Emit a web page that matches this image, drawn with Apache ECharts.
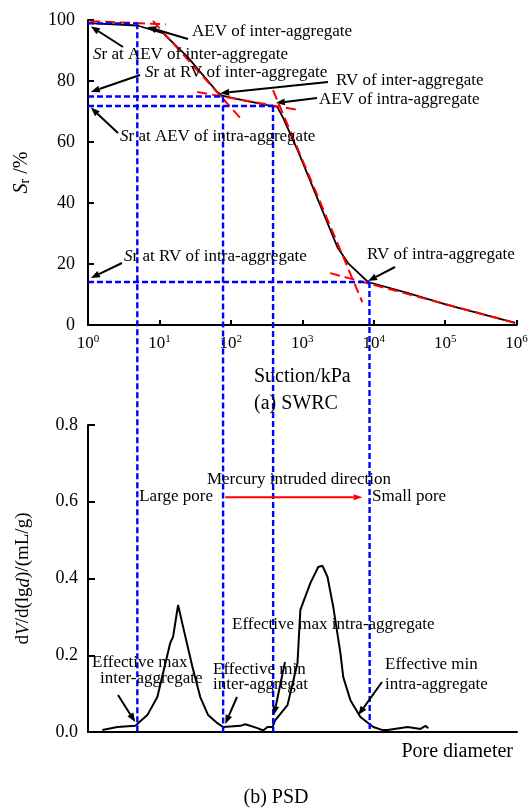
<!DOCTYPE html>
<html>
<head>
<meta charset="utf-8">
<script src="https://cdn.jsdelivr.net/npm/echarts@6/dist/echarts.min.js"></script>
<style>
  html, body { margin: 0; padding: 0; background: #fff; }
  #chart { width: 532px; height: 810px; }
</style>
</head>
<body>
<div id="chart"></div>
<script>
// (a) SWRC, x = log10(suction / kPa)
var swrcLogS = [0, 0.69, 1.05, 1.19, 1.39, 1.81, 1.88, 2.03, 2.51, 2.65, 2.73, 2.94, 3.49, 3.64, 3.92, 4.47, 5.03, 5.98];
var swrcSr = [99, 98.2, 95.7, 92.5, 88, 76.4, 75.2, 74.4, 72.1, 71.5, 68, 57, 25.6, 20.3, 14.1, 10.5, 6.6, 0.7];

// red tangent lines (start, end)
var tangentLogS = [[0.03, 1.09], [0.91, 2.13], [1.53, 2.94], [2.59, 3.84], [3.39, 5.98]];
var tangentSr = [[99.6, 98.6], [99.7, 67.9], [76.4, 70.5], [77, 7.5], [17, 0.7]];

// characteristic points (blue guides)
var guideLogS = [0.69, 1.89, 2.59, 3.94];
var guideSr = [98.9, 74.9, 71.8, 14.1];

// (b) PSD, same horizontal scale
var psdLogD = [0.2, 0.41, 0.66, 0.7, 0.83, 0.97, 1.15, 1.19, 1.26, 1.33, 1.46, 1.57, 1.68, 1.81, 1.89,
  2.13, 2.2, 2.37, 2.45, 2.51, 2.58, 2.62, 2.79, 2.93, 2.97, 3.11, 3.22, 3.28, 3.35, 3.43, 3.53,
  3.57, 3.67, 3.81, 3.99, 4.12, 4.19, 4.47, 4.65, 4.72, 4.76];
var psdDV = [0.005, 0.013, 0.016, 0.023, 0.044, 0.091, 0.232, 0.248, 0.331, 0.274, 0.17, 0.091, 0.044, 0.023, 0.013,
  0.016, 0.02, 0.01, 0.004, 0.013, 0.013, 0.031, 0.07, 0.18, 0.318, 0.388, 0.43, 0.433, 0.404, 0.326, 0.206,
  0.143, 0.083, 0.039, 0.013, 0.005, 0.005, 0.013, 0.008, 0.016, 0.01];

var FONT = '"Liberation Serif", "Times New Roman", serif';

function pairs(xs, ys) {
  return xs.map(function (x, i) { return [x, ys[i]]; });
}

var chart = echarts.init(document.getElementById('chart'));

var series = [
  {
    type: 'line', xAxisIndex: 0, yAxisIndex: 0,
    data: pairs(swrcLogS, swrcSr),
    symbol: 'none', animation: false, z: 3,
    lineStyle: { color: '#000', width: 1.8 }
  },
  {
    type: 'line', xAxisIndex: 1, yAxisIndex: 1,
    data: pairs(psdLogD, psdDV),
    symbol: 'none', animation: false, z: 3,
    lineStyle: { color: '#000', width: 2 }
  }
];
tangentLogS.forEach(function (xs, i) {
  series.push({
    type: 'line', xAxisIndex: 0, yAxisIndex: 0,
    data: pairs(xs, tangentSr[i]),
    symbol: 'none', animation: false, z: 4,
    lineStyle: { color: '#ff0000', width: 2, type: [10, 5] }
  });
});

var option = {
  animation: false,
  backgroundColor: '#fff',
  grid: [
    { left: 88, top: 20, width: 428.6, height: 305 },
    { left: 88, top: 425, width: 429, height: 307 }
  ],
  xAxis: [
    {
      gridIndex: 0, type: 'value', min: 0, max: 6, interval: 1,
      name: 'Suction/kPa', nameLocation: 'middle', nameGap: 42,
      nameTextStyle: { fontFamily: FONT, fontSize: 20, color: '#000' },
      axisLine: { lineStyle: { color: '#000', width: 2 } },
      axisTick: { inside: true, length: 5, lineStyle: { color: '#000', width: 2 } },
      splitLine: { show: false },
      axisLabel: {
        margin: 9,
        formatter: function (v) { return '{b|10}{s|' + v + '}'; },
        rich: {
          b: { fontFamily: FONT, fontSize: 17, color: '#000', lineHeight: 20 },
          s: { fontFamily: FONT, fontSize: 11, color: '#000', lineHeight: 11, verticalAlign: 'top' }
        }
      }
    },
    {
      gridIndex: 1, type: 'value', min: 0, max: 6,
      axisLine: { lineStyle: { color: '#000', width: 2 } },
      axisTick: { show: false },
      axisLabel: { show: false },
      splitLine: { show: false }
    }
  ],
  yAxis: [
    {
      gridIndex: 0, type: 'value', min: 0, max: 100, interval: 20,
      name: '{i|S}{sub|r} /%', nameLocation: 'middle', nameGap: 56, nameRotate: 90,
      nameTextStyle: {
        rich: {
          i: { fontFamily: FONT, fontSize: 20, fontStyle: 'italic', color: '#000' },
          sub: { fontFamily: FONT, fontSize: 14, color: '#000', padding: [6, 0, 0, 0] }
        },
        fontFamily: FONT, fontSize: 20, color: '#000'
      },
      axisLine: { show: true, lineStyle: { color: '#000', width: 2 } },
      axisTick: { show: true, inside: true, length: 6, lineStyle: { color: '#000', width: 2 } },
      splitLine: { show: false },
      axisLabel: { fontFamily: FONT, fontSize: 18, color: '#000', margin: 13 }
    },
    {
      gridIndex: 1, type: 'value', min: 0, max: 0.8, interval: 0.2,
      name: 'd{i|V}/d(lg{i|d})/(mL/g)', nameLocation: 'middle', nameGap: 55, nameRotate: 90,
      nameTextStyle: {
        fontFamily: FONT, fontSize: 19, color: '#000',
        rich: { i: { fontFamily: FONT, fontSize: 19, fontStyle: 'italic', color: '#000' } }
      },
      axisLine: { show: true, lineStyle: { color: '#000', width: 2 } },
      axisTick: { show: true, inside: true, length: 7, lineStyle: { color: '#000', width: 2 } },
      splitLine: { show: false },
      axisLabel: {
        fontFamily: FONT, fontSize: 18, color: '#000', margin: 10,
        formatter: function (v) { return v.toFixed(1); }
      }
    }
  ],
  series: series
};
chart.setOption(option);

// ---- overlay: guides, arrows and labels ----
function px0(p) { return chart.convertToPixel({ seriesIndex: 0 }, p); }
function px1(p) { return chart.convertToPixel({ seriesIndex: 1 }, p); }

function dashLine(a, b) {
  return {
    type: 'line', z: 10,
    shape: { x1: a[0], y1: a[1], x2: b[0], y2: b[1] },
    style: { stroke: '#0000ff', lineWidth: 2.4, lineDash: [6, 3] }
  };
}

function arrow(x1, y1, x2, y2, color, w, hl, hw) {
  var a = Math.atan2(y2 - y1, x2 - x1);
  var bx = x2 - hl * Math.cos(a), by = y2 - hl * Math.sin(a);
  var nx = -Math.sin(a) * hw, ny = Math.cos(a) * hw;
  return [
    { type: 'line', z: 12, shape: { x1: x1, y1: y1, x2: bx, y2: by }, style: { stroke: color, lineWidth: w } },
    { type: 'polygon', z: 12, shape: { points: [[x2, y2], [bx + nx, by + ny], [bx - nx, by - ny]] }, style: { fill: color } }
  ];
}

function label(txt, x, y, align) {
  return {
    type: 'text', z: 11, x: x, y: y,
    style: {
      text: txt, fill: '#000', align: align || 'left', verticalAlign: 'middle',
      font: '17px ' + FONT,
      rich: {
        i: { fontFamily: FONT, fontSize: 17, fontStyle: 'italic', fill: '#000' },
        n: { fontFamily: FONT, fontSize: 17, fill: '#000' }
      }
    }
  };
}

var g = [];
guideLogS.forEach(function (x, i) {
  var pt = px0([x, guideSr[i]]);
  var pl = px0([0, guideSr[i]]);
  var pb = px1([x, 0]);
  g.push(dashLine(pl, pt));
  g.push(dashLine(pt, pb));
});

// (a) annotations: tails in pixels, tips on data
var topNotes = [
  { t: '{n|AEV of inter-aggregate}', x: 192, y: 32, tail: [188, 39], tip: [0.83, 97.7] },
  { t: '{i|S}{n|r at AEV of inter-aggregate}', x: 93, y: 55, tail: [123, 47], tip: [0.04, 97.9] },
  { t: '{i|S}{n|r at RV of inter-aggregate}', x: 145, y: 73, tail: [140, 75], tip: [0.04, 76.4] },
  { t: '{n|RV of inter-aggregate}', x: 336, y: 81, tail: [328, 82], tip: [1.85, 76] },
  { t: '{n|AEV of intra-aggregate}', x: 319, y: 100, tail: [317, 98], tip: [2.63, 72.8] },
  { t: '{i|S}{n|r at AEV of intra-aggregate}', x: 120, y: 137, tail: [118, 133], tip: [0.04, 71.3] },
  { t: '{i|S}{n|r at RV of intra-aggregate}', x: 124, y: 257, tail: [122, 263], tip: [0.04, 15.4] },
  { t: '{n|RV of intra-aggregate}', x: 367, y: 255, tail: [395, 267], tip: [3.92, 14.4] }
];
topNotes.forEach(function (n) {
  g.push(label(n.t, n.x, n.y));
  var p = px0(n.tip);
  g = g.concat(arrow(n.tail[0], n.tail[1], p[0], p[1], '#000', 2, 9, 3.5));
});

// (b) annotations
var botNotes = [
  { t: '{n|Effective max}', x: 92, y: 663 },
  { t: '{n|inter-aggregate}', x: 100, y: 679, tail: [118, 695], tip: [0.66, 0.026] },
  { t: '{n|Effective min}', x: 213, y: 670 },
  { t: '{n|inter-aggregat}', x: 213, y: 685, tail: [237, 697], tip: [1.92, 0.021] },
  { t: '{n|Effective max intra-aggregate}', x: 232, y: 625, tail: [285, 662], tip: [2.6, 0.044] },
  { t: '{n|Effective min}', x: 385, y: 665 },
  { t: '{n|intra-aggregate}', x: 385, y: 685, tail: [382, 682], tip: [3.78, 0.044] }
];
botNotes.forEach(function (n) {
  g.push(label(n.t, n.x, n.y));
  if (n.tail) {
    var p = px1(n.tip);
    g = g.concat(arrow(n.tail[0], n.tail[1], p[0], p[1], '#000', 2, 9, 3.5));
  }
});

// mercury intrusion direction
var mA = px1([1.92, 0.612]), mB = px1([3.84, 0.612]);
g = g.concat(arrow(mA[0], mA[1], mB[0], mB[1], '#ff0000', 2, 9, 3));
g.push(label('{n|Mercury intruded direction}', 299, 480, 'center'));
g.push(label('{n|Large pore}', 213, 497, 'right'));
g.push(label('{n|Small pore}', 372, 497, 'left'));

// titles
g.push({ type: 'text', z: 11, x: 296, y: 404, style: { text: '(a) SWRC', font: '20px ' + FONT, fill: '#000', align: 'center', verticalAlign: 'middle' } });
g.push({ type: 'text', z: 11, x: 513, y: 752, style: { text: 'Pore diameter', font: '20px ' + FONT, fill: '#000', align: 'right', verticalAlign: 'middle' } });
g.push({ type: 'text', z: 11, x: 276, y: 798, style: { text: '(b) PSD', font: '20px ' + FONT, fill: '#000', align: 'center', verticalAlign: 'middle' } });

chart.setOption({ graphic: g });
</script>
</body>
</html>
